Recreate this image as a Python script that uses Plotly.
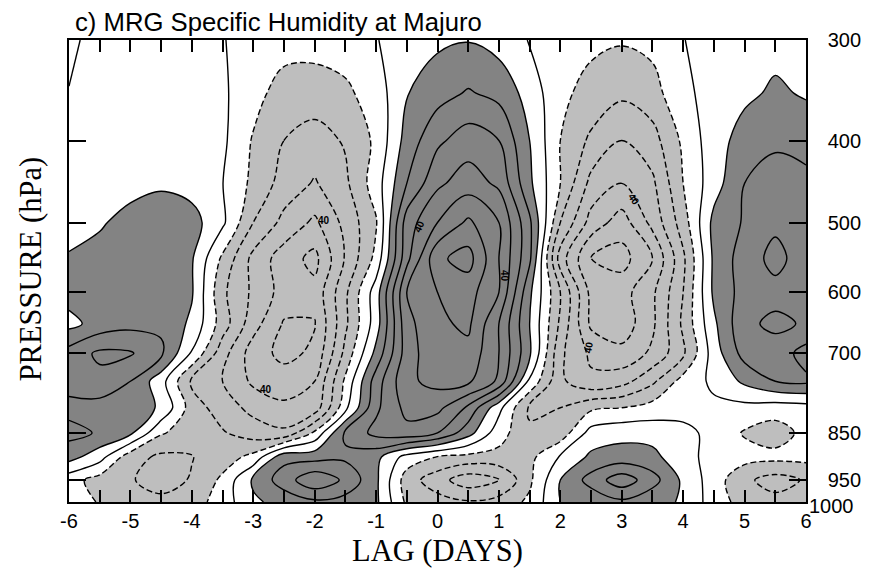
import plotly.graph_objects as go

# ---------------- data ----------------
lags = [-6, -5.5, -5, -4.5, -4, -3.5, -3, -2.5, -2, -1.5, -1, -0.5, 0,
        0.5, 1, 1.5, 2, 2.5, 3, 3.5, 4, 4.5, 5, 5.5, 6]
pressure = [300, 350, 400, 450, 500, 550, 600, 650, 700, 750, 800, 850, 900, 950, 1000]

q300 = [-2, 3.5, 4, 4, 3, 0.5, -4, -5, -6, -5, -0.5, 5, 8, 9.5, 6, -0.5, -5, -8, -9, -7, -0.3, 4, 6, 7, 6]
q350 = [0.3, 4, 5, 5, 4, 1.5, -6, -15, -15, -12, -5.3, 9.5, 16, 21, 17, 6, -8, -13, -18, -14, -2.2, 3.6, 8, 11.5, 9]
q400 = [5, 6, 6, 6, 5, 2, -11, -20, -24, -19, -8, 14, 28, 35, 30, 10, -10, -22, -30, -24, -8, 5.8, 14, 18, 16]
q450 = [4, 5, 7, 9, 6, 0.2, -12.5, -24, -31, -22, -5, 20, 38, 45, 38, 12, -10, -33, -40, -32, -10, 5.6, 20, 25, 23]
q500 = [6, 9, 13, 14, 14, 2, -20, -33, -42, -27, -11, 35, 50, 62, 50, 22, -20, -44, -55, -37, -15, 13, 21, 28, 25]
q550 = [11, 13, 15, 15, 11, -12, -33, -45, -53, -29, -7, 37, 68, 74, 50, 22, -35, -60.5, -64, -50, -22, 12, 25, 33, 25]
q600 = [14, 15, 15, 14, 11, -18, -32, -44, -47, -22, 5, 50, 60, 64, 50, 12, -20, -53, -54, -42, -20, 12, 24, 27, 25]
q650 = [7, 14, 17, 18, 8, -15, -36, -51, -50.5, -22, 5, 47, 58, 62, 40, 10, -22, -52, -56, -42, -18, 8, 28, 32, 29]
q700 = [24, 32, 31, 22, -1, -26, -45, -53, -48, -17, 13, 45, 58, 57, 40, 12, -28, -42, -47, -38, -22, 5, 24, 26, 16]
q750 = [24, 27, 20, 4, -22, -30, -42, -45, -40, -8, 25, 48, 53, 52, 38, -2, -28, -38, -34, -22, -6, 2, 12, 20, 22]
q800 = [17, 16, 14, 9, -15, -25, -33, -38, -36, -3, 28, 43, 43, 28, 3, -22, -20, -12, -10, -6, -4, -2, -3, -5, -4]
q850 = [23, 19, 12, -9, -15, -19, -25, -28, -8, 22, 33, 37, 30, 14, -6, -18, -16, 4, 7, 6, 3, -3, -11, -15, -7]
q900 = [14, 4, -16, -22, -20.5, -15, -7, 17, 16, 18, 13, -4, -10.5, -13, -13, -13, 1, 12, 14, 13, 3, -3, -6, -7, -7]
q950 = [-6, -14, -19, -25, -19, -8, 12, 25, 38, 28, 12, -15, -26, -36, -31, -12, 10, 24, 36, 24, 8, -5, -18, -24, -19]
q1000 = [-3, -11, -15, -17, -15, -5, 8, 14, 18, 16, 12, -12, -16, -19, -16, -8, 10, 13, 18, 13, 9, -5, -14, -17, -15]

x_ticks = [-6, -5.5, -5, -4.5, -4, -3.5, -3, -2.5, -2, -1.5, -1, -0.5, 0,
           0.5, 1, 1.5, 2, 2.5, 3, 3.5, 4, 4.5, 5, 5.5, 6]
x_labels = ["-6", "", "-5", "", "-4", "", "-3", "", "-2", "", "-1", "", "0",
            "", "1", "", "2", "", "3", "", "4", "", "5", "", "6"]
p_ticks = [300, 400, 500, 600, 700, 850, 950, 1000]
p_labels = ["300", "400", "500", "600", "700", "850", "950", ""]
bottom_label = "1000"

# ---------------- figure ----------------
Z = [q300, q350, q400, q450, q500, q550, q600, q650, q700, q750, q800, q850, q900, q950, q1000]
EXP = 0.2  # vertical pressure scale of the reference (p ** 0.2)
yv = [p ** EXP for p in pressure]

DARK = "#838383"
LIGHT = "#bebebe"
SMOOTH = 1.0

fig = go.Figure()

fig.add_trace(go.Contour(
    x=lags, y=yv, z=Z, autocontour=False,
    contours=dict(start=-10, end=10, size=20, coloring="fill", showlines=False),
    colorscale=[[0, LIGHT], [0.5, "white"], [1, DARK]],
    line=dict(width=0, smoothing=SMOOTH), showscale=False, hoverinfo="skip"))

fig.add_trace(go.Contour(
    x=lags, y=yv, z=Z, autocontour=False,
    contours=dict(start=-80, end=-10, size=10, coloring="lines"),
    colorscale=[[0, "black"], [1, "black"]],
    line=dict(width=1.4, smoothing=SMOOTH, dash="6px,3px"), showscale=False, hoverinfo="skip"))

fig.add_trace(go.Contour(
    x=lags, y=yv, z=Z, autocontour=False,
    contours=dict(start=0, end=80, size=10, coloring="lines"),
    colorscale=[[0, "black"], [1, "black"]],
    line=dict(width=1.4, smoothing=SMOOTH), showscale=False, hoverinfo="skip"))

SANS = "Liberation Sans, Arial, sans-serif"
SERIF = "Liberation Serif, Times New Roman, serif"
tick_font = dict(family=SANS, size=20, color="black")
serif = dict(family=SERIF, size=30.5, color="black")

fig.update_layout(
    width=873, height=574,
    margin=dict(l=69, r=65, t=40, b=72),
    paper_bgcolor="white", plot_bgcolor="white",
    showlegend=False,
    xaxis=dict(range=[-6, 6], tickmode="array", tickvals=x_ticks, ticktext=x_labels,
               ticks="inside", ticklen=12, tickwidth=2, tickcolor="black",
               showline=True, linecolor="black", linewidth=1.5,
               mirror="ticks", showgrid=False, zeroline=False, tickfont=tick_font),
    yaxis=dict(range=[1000 ** EXP, 300 ** EXP], side="right",
               tickmode="array", tickvals=[p ** EXP for p in p_ticks], ticktext=p_labels,
               ticks="inside", ticklen=17, tickwidth=1.8, tickcolor="black",
               showline=True, linecolor="black", linewidth=1.5, mirror="ticks",
               showgrid=False, zeroline=False, tickfont=tick_font, ticklabelstandoff=16),
)

annotations = [
    dict(text="c) MRG Specific Humidity at Majuro", xref="paper", yref="paper",
         x=0.005, y=1.04, xanchor="left", yanchor="middle", showarrow=False,
         font=dict(family=SANS, size=25.7, color="black")),
    dict(text="LAG (DAYS)", xref="paper", yref="paper", x=0.5, y=-0.105,
         xanchor="center", yanchor="middle", showarrow=False, font=serif),
    dict(text="PRESSURE (hPa)", xref="paper", yref="paper", x=-0.052, y=0.505,
         xanchor="center", yanchor="middle", textangle=-90, showarrow=False, font=serif),
    dict(text=bottom_label, xref="paper", yref="y", x=1, y=1000 ** EXP, xanchor="left",
         yanchor="middle", xshift=1, yshift=-4, showarrow=False, font=tick_font),
]
label_spots = [(-1.85, 497, 0), (-0.3, 505, -65), (1.08, 575, 90), (3.2, 470, 55),
               (-2.8, 765, 0), (2.46, 690, -80)]
for lx, lp, ang in label_spots:
    annotations.append(dict(text="<b>40</b>", x=lx, y=lp ** EXP, xref="x", yref="y",
                            showarrow=False, textangle=ang,
                            font=dict(family=SANS, size=10, color="black")))
fig.update_layout(annotations=annotations)

fig.write_html("out.html")
